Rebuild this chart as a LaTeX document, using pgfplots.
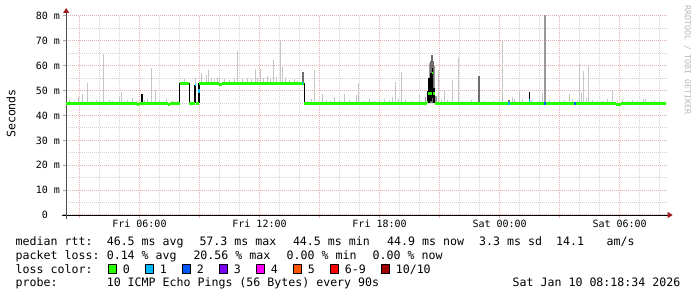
\documentclass[border=0pt]{standalone}
\usepackage{pgfplots}
\pgfplotsset{compat=1.18}
\usepackage{pgfplotstable}
\usepackage{fontspec}
\setmainfont{DejaVu Sans Mono}
\usetikzlibrary{arrows.meta}
\definecolor{lossgreen}{HTML}{26FF00}
\definecolor{lossA}{HTML}{00B8FF}
\definecolor{lossB}{HTML}{0059FF}
\definecolor{lossC}{HTML}{7E00FF}
\definecolor{lossD}{HTML}{FF00FF}
\definecolor{lossE}{HTML}{FF5500}
\definecolor{lossF}{HTML}{FF0000}
\definecolor{lossG}{HTML}{A10000}
\definecolor{mgrid}{HTML}{E3AEAE}
\definecolor{ngrid}{HTML}{D2D2D2}
\definecolor{smokeL}{HTML}{C6C6C6}
\definecolor{smokeM}{HTML}{9A9A9A}
\definecolor{smokeD}{HTML}{6E6E6E}
\definecolor{arrowred}{HTML}{A01E1E}
\newcommand\legfont{\fontsize{11.6}{14}\selectfont}
\newcommand\tickfont{\fontsize{10}{12}\selectfont}
\newcommand\wmfont{\fontsize{8.3}{10}\selectfont}

\pgfplotstableread{
h v
2.34 44.9
5.9 44.5
6.0 44.9
7.45 44.5
7.55 44.9
8.03 52.9
8.5 44.9
8.78 52.3
8.85 44.9
8.98 52.9
10.0 52.5
10.15 52.9
14.2 44.9
20.35 45.5
20.415 48.9
20.6 57.0
20.67 48.9
20.75 44.9
29.83 44.4
30.08 44.9
32.3 44.9
}\median

\pgfplotstableread{
h lo hi
2.50 45 46.2
2.75 45 46.0
2.95 45 47.3
3.165 45 48.6
3.415 45 53.0
3.65 45 46.0
3.835 45 46.3
4.00 45 46.0
4.215 45 64.6
4.50 45 46.2
4.65 45 46.0
5.00 45 47.3
5.085 45 49.6
5.25 45 46.0
5.415 45 46.3
5.635 45 47.0
5.835 45 46.0
6.25 45 46.2
6.415 45 46.5
6.60 45 59.0
6.80 45 50.4
7.00 45 46.2
7.335 45 46.5
7.665 45 46.2
7.915 45 45.8
8.25 52.9 54.5
8.80 52.3 55.0
9.085 52.9 57.0
9.335 52.9 56.3
9.465 52.9 58.3
9.60 52.9 55.0
9.75 52.9 54.8
9.90 52.9 55.0
10.00 52.9 54.5
10.25 52.9 54.5
10.50 52.9 54.3
10.75 52.9 54.5
10.915 52.9 65.9
11.15 52.9 54.5
11.40 52.9 55.0
11.60 52.9 54.5
11.80 52.9 58.7
11.90 52.9 55.0
12.05 52.9 58.8
12.20 52.9 55.0
12.415 52.9 56.0
12.55 52.9 55.0
12.70 52.9 62.3
12.85 52.9 55.5
13.035 52.9 70.4
13.15 52.9 59.5
13.30 52.9 55.0
13.50 52.9 54.3
13.75 52.9 54.5
13.90 52.9 54.0
14.40 45 46.0
14.60 45 46.5
14.75 45 58.3
14.95 45 46.0
15.135 45 48.5
15.35 45 46.3
15.55 45 46.0
15.75 45 47.6
16.00 45 46.2
16.25 45 48.5
16.50 45 46.4
16.835 45 48.1
16.965 45 53.2
17.20 45 46.0
17.50 45 46.5
17.75 45 46.0
18.00 45 46.0
18.25 45 46.5
18.50 45 46.2
18.665 45 47.3
18.80 45 53.6
18.95 45 46.5
19.115 45 57.6
19.30 45 46.3
19.60 45 46.0
20.00 45 48.2
20.10 45 46.0
20.965 45 58.3
21.10 45 46.5
21.25 45 49.8
21.40 45 46.4
21.665 45 54.3
21.965 45 63.6
22.15 45 46.0
22.60 45 46.3
23.20 45 46.0
23.70 45 46.0
24.00 45 46.3
24.125 45 70.1
24.665 45 47.3
24.75 45 46.5
25.00 45 49.7
25.15 45 46.5
25.60 45 46.3
26.00 45 46.3
26.165 45 48.9
26.50 45 46.3
26.75 45 46.0
27.00 45 46.3
27.25 45 46.3
27.50 45 48.5
27.65 45 46.8
27.90 45 46.3
28.00 45 60.7
28.085 45 48.9
28.20 45 58.0
28.35 45 47.0
28.465 45 60.3
28.65 45 46.3
28.90 45 46.0
29.15 45 46.0
29.40 45 46.5
29.665 45 50.0
29.90 45 46.0
30.15 45 46.2
30.40 45 45.8
30.65 45 46.1
30.90 45 46.0
31.20 45 46.5
31.30 45 46.8
31.60 45 46.0
31.75 45 46.3
32.00 45 46.0
}\smokeLight

\pgfplotstableread{
h lo hi
20.30 45 47.3
20.82 45 48.0
20.52 45 61.0
20.72 45 60.0
26.265 45 80.3
}\smokeMid

\pgfplotstableread{
h lo hi
14.17 53.0 57.6
20.57 45 62.0
20.62 45 64.3
20.67 45 62.0
22.965 45 55.8
24.465 45 46.4
}\smokeDark

\pgfplotstableread{
h lo hi
6.135 44.6 48.6
8.01 44.9 52.9
8.50 44.9 52.9
8.78 44.9 52.3
8.98 44.9 53.2
14.24 44.9 52.9
20.40 45 50
20.47 45 55
20.57 46 57
20.64 47 59
20.72 45 51
25.50 44.2 49.6
}\smokeBlack

\begin{document}
\begin{tikzpicture}[x=1pt,y=1pt]
\useasboundingbox (0,0) rectangle (697,297);
\begin{axis}[
  at={(66.2pt,82pt)}, anchor=south west,
  scale only axis, width=601.5pt, height=199pt,
  xmin=2.34, xmax=32.4, ymin=0, ymax=80,
  axis x line*=bottom, axis y line*=left,
  x axis line style={black, line width=0.8pt, shorten >=-5pt, shorten <=-4pt, -{Triangle[length=5pt,width=6pt,color=arrowred]}},
  y axis line style={gray!60!black, line width=0.8pt, shorten >=-8pt, shorten <=-4pt, -{Triangle[length=5pt,width=6pt,color=arrowred]}},
  xtick={3,6,...,30},
  xticklabels={,Fri 06:00,,Fri 12:00,,Fri 18:00,,Sat 00:00,,Sat 06:00},
  minor xtick={3,4,...,32},
  ytick={0,10,...,80},
  yticklabels={0\hphantom{0m},10 m,20 m,30 m,40 m,50 m,60 m,70 m,80 m},
  minor ytick={5,15,...,75},
  grid=both,
  major grid style={draw=mgrid, dash pattern=on 1pt off 1pt, line width=1pt},
  minor grid style={draw=ngrid, dash pattern=on 1pt off 1pt, line width=1pt},
  tick align=outside,
  major tick length=3pt, minor tick length=0pt,
  xtick style={draw=mgrid, line width=1pt},
  ytick style={draw=gray!70, line width=1pt},
  ticklabel style={font=\tickfont},
  xticklabel style={anchor=base, inner sep=0pt, yshift=-10pt},
  yticklabel style={anchor=east, inner sep=0pt, xshift=-3pt},
  /pgf/number format/assume math mode=true,
]
\addplot[forget plot, draw=none, mark=none, error bars/.cd, y dir=plus, y explicit, error mark=none,
  error bar style={draw=smokeL, line width=1pt, solid}]
  table[x=h, y=lo, y error expr=\thisrow{hi}-\thisrow{lo}] {\smokeLight};
\addplot[forget plot, draw=none, mark=none, error bars/.cd, y dir=plus, y explicit, error mark=none,
  error bar style={draw=smokeM, line width=1.2pt, solid}]
  table[x=h, y=lo, y error expr=\thisrow{hi}-\thisrow{lo}] {\smokeMid};
\addplot[forget plot, draw=none, mark=none, error bars/.cd, y dir=plus, y explicit, error mark=none,
  error bar style={draw=smokeD, line width=1.2pt, solid}]
  table[x=h, y=lo, y error expr=\thisrow{hi}-\thisrow{lo}] {\smokeDark};
\addplot[forget plot, draw=none, mark=none, error bars/.cd, y dir=plus, y explicit, error mark=none,
  error bar style={draw=black, line width=1.3pt, solid}]
  table[x=h, y=lo, y error expr=\thisrow{hi}-\thisrow{lo}] {\smokeBlack};
\addplot[forget plot, lossgreen, line width=2.4pt, jump mark left, mark=none] table[x=h, y=v] {\median};
\addplot[forget plot, lossA, line width=2.4pt] coordinates {(8.76,52.3) (8.84,52.3)};
\addplot[forget plot, lossA, line width=2.4pt] coordinates {(14.12,52.9) (14.19,52.9)};
\addplot[forget plot, lossA, line width=1.5pt] coordinates {(8.98,49.0) (8.98,50.5)};
\addplot[forget plot, lossA, line width=2.4pt] coordinates {(24.44,44.9) (24.5,44.9)};
\addplot[forget plot, lossA, line width=1.5pt] coordinates {(25.5,45.6) (25.5,46.8)};
\addplot[forget plot, lossB, line width=2.4pt] coordinates {(26.24,44.9) (26.30,44.9)};
\addplot[forget plot, lossB, line width=2.4pt] coordinates {(27.74,44.9) (27.81,44.9)};
\end{axis}

% y label and watermark
\node[rotate=90, font=\legfont, inner sep=0pt] at (11,183.5) {Seconds};
\node[rotate=-90, font=\wmfont, text=gray!55, inner sep=0pt] at (687.5,237) {RRDTOOL / TOBI OETIKER};

% legend rows
\begin{scope}[every node/.style={anchor=base west, inner sep=0pt, font=\legfont}]
\node at (15.5,51.3) {median rtt:};
\node at (106.6,51.3) {46.5 ms avg};
\node at (199.3,51.3) {57.3 ms max};
\node at (292.8,51.3) {44.5 ms min};
\node at (387,51.3) {44.9 ms now};
\node at (479,51.3) {3.3 ms sd};
\node at (556,51.3) {14.1};
\node at (606.5,51.3) {am/s};

\node at (15.5,37.6) {packet loss:};
\node at (106.6,37.6) {0.14 \% avg};
\node at (193.3,37.6) {20.56 \% max};
\node at (286.5,37.6) {0.00 \% min};
\node at (372.5,37.6) {0.00 \% now};

\node at (15.5,23.8) {loss color:};
\foreach \c/\t [count=\k from 0] in {lossgreen/0,lossA/1,lossB/2,lossC/3,lossD/4,lossE/5,lossF/6-9}{
  \filldraw[fill=\c, draw=black, line width=0.8pt] (108.7+37*\k,23.9) rectangle ++(7.3,8.2);
  \node at (122.6+37*\k,23.8) {\t};
}
\filldraw[fill=lossG, draw=black, line width=0.8pt] (381.7,23.9) rectangle ++(7.3,8.2);
\node at (395.6,23.8) {10/10};

\node at (15.5,10) {probe:};
\node at (106.6,10) {10 ICMP Echo Pings (56 Bytes) every 90s};
\node[anchor=base east] at (680.5,10) {Sat Jan 10 08:18:34 2026};
\end{scope}
\end{tikzpicture}
\end{document}
